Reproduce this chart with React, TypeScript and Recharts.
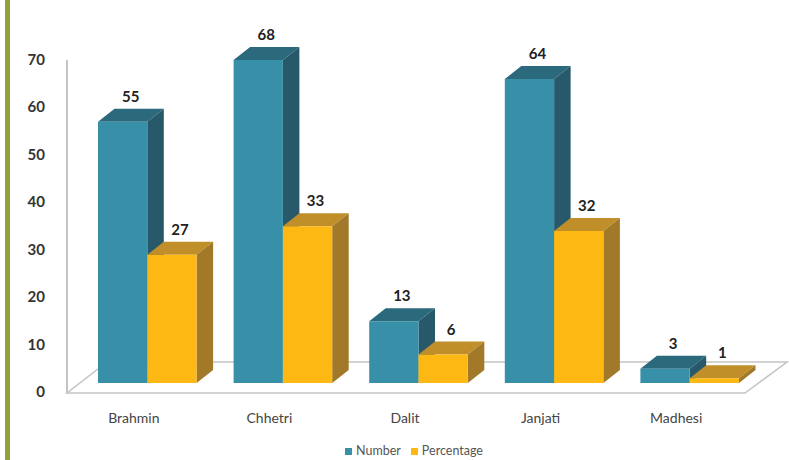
import React from 'react'
import { BarChart, Bar, XAxis, YAxis, Legend, LabelList } from 'recharts'

const CATEGORIES = ['Brahmin', 'Chhetri', 'Dalit', 'Janjati', 'Madhesi']
const NUMBER = [55, 68, 13, 64, 3]
const PERCENTAGE = [27, 33, 6, 32, 1]
const Y_TICKS = [0, 10, 20, 30, 40, 50, 60, 70]

const rows = CATEGORIES.map((name, i) => ({ name, number: NUMBER[i], percentage: PERCENTAGE[i] }))

const FONT = 'Lato, sans-serif'
const TEAL = { front: '#3790a8', top: '#2a6a7c', side: '#27596a' }
const GOLD = { front: '#fdb813', top: '#c08f2a', side: '#a27829' }
const LINE = '#c4c4c4'
const DX = 16.5
const DY = 13

// one 3D box: front face plus top and side faces pushed back by DX/DY
function box(colors: typeof TEAL) {
  return function Box3D(props: any) {
    const { x, y, width, height } = props
    const r = x + width
    const b = y + height
    return (
      <g>
        <polygon points={`${x},${y} ${x + DX},${y - DY} ${r + DX},${y - DY} ${r},${y}`} fill={colors.top} />
        <polygon points={`${r},${y} ${r + DX},${y - DY} ${r + DX},${b - DY} ${r},${b}`} fill={colors.side} />
        <rect x={x} y={y} width={width} height={height} fill={colors.front} />
      </g>
    )
  }
}

function ValueLabel(props: any) {
  const { x, y, width, value } = props
  return (
    <text x={x + width / 2 + 8} y={y - 20} textAnchor="middle" fontFamily={FONT} fontWeight={700} fontSize={15} fill="#222">
      {value}
    </text>
  )
}

function YTick(props: any) {
  const { x, y, payload } = props
  return (
    <text x={x - 26} y={y + 14} textAnchor="end" fontFamily={FONT} fontWeight={700} fontSize={15} fill="#333">
      {payload.value}
    </text>
  )
}

function XTick(props: any) {
  const { x, payload } = props
  return (
    <text x={x - 13} y={423} textAnchor="middle" fontFamily={FONT} fontSize={14} fill="#444">
      {payload.value}
    </text>
  )
}

export default function App() {
  return (
    <div style={{ position: 'absolute', left: 0, top: 0, width: 789, height: 460, background: '#fff' }}>
      <div style={{ position: 'absolute', left: 5, top: 0, width: 5, height: 460, background: '#8ea535' }} />
      <BarChart
        width={789}
        height={460}
        data={rows}
        barSize={49.3}
        barGap={0}
        margin={{ top: 50.5, right: 32, left: 29, bottom: 10 }}
      >
        {/* floor and wall edge */}
        <polygon points="67,393 745,393 787,362 107,362" fill="#fff" stroke={LINE} strokeWidth={1.5} />
        <line x1={67} y1={60} x2={67} y2={393} stroke={LINE} strokeWidth={2} />
        <XAxis dataKey="name" axisLine={false} tickLine={false} height={47} interval={0} tick={<XTick />} />
        <YAxis width={50} domain={[0, 70]} ticks={Y_TICKS} axisLine={false} tickLine={false} tick={<YTick />} />
        <Legend
          height={20}
          iconType="square"
          iconSize={7}
          wrapperStyle={{ left: 55, bottom: -1 }}
          formatter={(v) => <span style={{ color: '#555', fontFamily: FONT, fontSize: 12.5 }}>{v}</span>}
        />
        <Bar dataKey="number" name="Number" fill={TEAL.front} shape={box(TEAL)} isAnimationActive={false}>
          <LabelList dataKey="number" content={<ValueLabel />} />
        </Bar>
        <Bar dataKey="percentage" name="Percentage" fill={GOLD.front} shape={box(GOLD)} isAnimationActive={false}>
          <LabelList dataKey="percentage" content={<ValueLabel />} />
        </Bar>
      </BarChart>
    </div>
  )
}
